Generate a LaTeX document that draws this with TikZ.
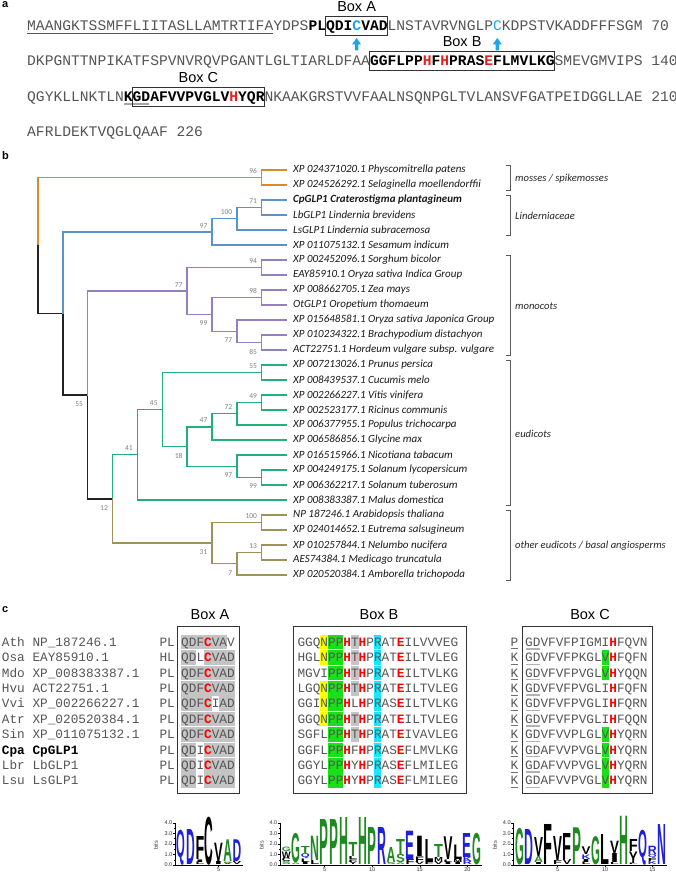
\documentclass[tikz,border=0pt]{standalone}
\usepackage{fontspec}
\usepackage{graphicx}
\usetikzlibrary{calc}
\setmainfont{Liberation Sans}
\newfontfamily\seqf{Liberation Mono}
\newfontfamily\treef{Carlito}
\newfontfamily\lgf{Liberation Sans}
\definecolor{seqgray}{HTML}{555555}
\definecolor{seqred}{HTML}{E8201A}
\definecolor{seqblue}{HTML}{1EA5E6}
\definecolor{torange}{HTML}{DB8A2B}
\definecolor{tblue}{HTML}{5B93C7}
\definecolor{tpurple}{HTML}{9480BE}
\definecolor{tgreen}{HTML}{21B07A}
\definecolor{tolive}{HTML}{9E9159}
\definecolor{tblack}{HTML}{222222}
\definecolor{hlgray}{HTML}{C4C4C4}
\definecolor{hlyellow}{HTML}{FFFF00}
\definecolor{hlgreen}{HTML}{1AE01A}
\definecolor{hlcyan}{HTML}{1AE6FF}
\definecolor{lgreen}{HTML}{1F8A1F}
\definecolor{lblue}{HTML}{2020D8}
\definecolor{lblack}{HTML}{000000}
\newcommand\bk[1]{{\bfseries\color{black}#1}}
\newcommand\rdk[1]{{\bfseries\color{seqred}#1}}
\newcommand\blk[1]{{\bfseries\color{seqblue}#1}}
\newcommand\rc[1]{{\bfseries\color{red}#1}}
\newcount\lgc
\newcommand\lgstart[1]{\xdef\stky{#1}}
\newcommand\lgl[5]{%
  \global\advance\lgc by 1
  \node[inner sep=0pt,anchor=south west,text=#4] (lg\the\lgc) at (#1,\stky) {\resizebox*{#2pt}{#3pt}{\lgf\bfseries #5}};
  \pgfmathsetmacro\tmpy{\stky-#3}\xdef\stky{\tmpy}}
\newcommand\lgcol[3]{\lgstart{865}\foreach \lH/\lC/\lL in {#3}{\lgl{#1}{#2}{\lH}{\lC}{\lL}}}
\newcommand\hc[4]{\fill[#4] ({#1+#2*7.65},{#3-7.3}) rectangle ({#1+#2*7.65+7.65},{#3+7.3});}
\newcommand\logoaxis[5]{% xa, xend, bitsx, first pos x, list of numbered x
  \draw[line width=0.5pt] (#1,865) -- (#1,822.7);
  \foreach \k in {0,1,2,3,4}{
    \draw[line width=0.4pt] (#1,{865-\k*10.57}) -- ({#1-2},{865-\k*10.57});
    \node[ticklab] at ({#1-2.5},{865-\k*10.57}) {\k.0};}
  \foreach \k in {0.5,1.5,2.5,3.5}{\draw[line width=0.3pt] (#1,{865-\k*10.57}) -- ({#1-1.2},{865-\k*10.57});}
  \draw[line width=0.5pt] (#1,865) -- (#2,865);
  \node[ticklab,rotate=90,anchor=center] at (#3,845) {bits};
  \foreach \xx/\nn in {#5}{\draw[line width=0.4pt] (\xx,865) -- (\xx,867);
    \node[ticklab,anchor=north] at (\xx,867.2) {\nn};}
}
\begin{document}
\begin{tikzpicture}[x=1pt,y=-1pt,
  seqline/.style={anchor=base west,inner sep=0pt,font=\seqf\fontsize{14.65}{16}\selectfont,text=seqgray},
  boxlab/.style={inner sep=0pt,font=\fontsize{14.5}{16}\selectfont,text=black},
  seqbox/.style={draw=black!80,line width=1.1pt},
  panel/.style={inner sep=0pt,font=\bfseries\fontsize{11}{12}\selectfont,anchor=north west},
  leaf/.style={anchor=west,inner sep=0pt,font=\treef\itshape\fontsize{11}{12}\selectfont,text=black!90},
  grp/.style={anchor=west,inner sep=0pt,font=\treef\itshape\fontsize{10.6}{12}\selectfont,text=black!85},
  bs/.style={anchor=east,inner sep=0pt,font=\treef\fontsize{7.5}{8}\selectfont,text=black!50},
  br/.style={line width=1.4pt,line cap=rect},
  brk/.style={draw=black!65,line width=0.8pt},
  cseq/.style={anchor=base west,inner sep=0pt,font=\seqf\fontsize{12.75}{14}\selectfont,text=seqgray},
  ticklab/.style={anchor=east,inner sep=0pt,font=\fontsize{5.5}{6}\selectfont,text=black!80}]
\useasboundingbox[fill=white] (0,0) rectangle (676,875);

% ---------------- panel a ----------------
\node[panel] (pa) at (2,1.5) {a};
\node[seqline] (s1) at (27,30.8) {MAANGKTSSMFFLIITASLLAMTRTIFAYDPS\bk{PLQDI}\blk{C}\bk{VAD}LNSTAVRVNGLP{\color{seqblue}C}KDPSTVKADDFFFSGM 70};
\node[seqline] (s2) at (27,65.8) {DKPGNTTNPIKATFSPVNVRQVPGANTLGLTIARLDFAA\bk{GGFLPP}\rdk{H}\bk{F}\rdk{H}\bk{PRAS}\rdk{E}\bk{FLMVLKG}SMEVGMVIPS 140};
\node[seqline] (s3) at (27,101.8) {QGYKLLNKTLN\bk{KGDAFVVPVGLV}\rdk{H}\bk{YQR}NKAAKGRSTVVFAALNSQNPGLTVLANSVFGATPEIDGGLLAE 210};
\node[seqline] (s4) at (27,136.8) {AFRLDEKTVQGLQAAF 226};
\draw[seqgray,line width=0.7pt] (27,33.6) -- (273.1,33.6);
\draw[black!35,line width=2pt] (124,104) -- (149,104);
\draw[seqbox] (325.9,16.5) rectangle (387.4,35.5);
\draw[seqbox] (369.8,51.5) rectangle (554.4,70.5);
\draw[seqbox] (132.5,87.5) rectangle (264.3,106.5);
\node[boxlab] (la) at (356.6,7) {Box A};
\node[boxlab] (lb) at (462.1,42) {Box B};
\node[boxlab] (lc) at (198.4,78) {Box C};
\foreach \ax in {356.6,497.3}{
  \fill[seqblue] (\ax,38) -- ({\ax+4.6},44.5) -- ({\ax+1.8},44.5) -- ({\ax+1.8},50.5) -- ({\ax-1.8},50.5) -- ({\ax-1.8},44.5) -- ({\ax-4.6},44.5) -- cycle;}

% ---------------- panel b ----------------
\node[panel] (pb) at (2,151) {b};
\foreach \i/\t in {1/{XP 024371020.1 Physcomitrella patens},2/{XP 024526292.1 Selaginella moellendorffii},
 3/{\bfseries CpGLP1 Craterostigma plantagineum},4/{LbGLP1 Lindernia brevidens},5/{LsGLP1 Lindernia subracemosa},
 6/{XP 011075132.1 Sesamum indicum},7/{XP 002452096.1 Sorghum bicolor},8/{EAY85910.1 Oryza sativa Indica Group},
 9/{XP 008662705.1 Zea mays},10/{OtGLP1 Oropetium thomaeum},11/{XP 015648581.1 Oryza sativa Japonica Group},
 12/{XP 010234322.1 Brachypodium distachyon},13/{ACT22751.1 Hordeum vulgare subsp. vulgare},
 14/{XP 007213026.1 Prunus persica},15/{XP 008439537.1 Cucumis melo},16/{XP 002266227.1 Vitis vinifera},
 17/{XP 002523177.1 Ricinus communis},18/{XP 006377955.1 Populus trichocarpa},19/{XP 006586856.1 Glycine max},
 20/{XP 016515966.1 Nicotiana tabacum},21/{XP 004249175.1 Solanum lycopersicum},22/{XP 006362217.1 Solanum tuberosum},
 23/{XP 008383387.1 Malus domestica},24/{NP 187246.1 Arabidopsis thaliana},25/{XP 024014652.1 Eutrema salsugineum},
 26/{XP 010257844.1 Nelumbo nucifera},27/{AES74384.1 Medicago truncatula},28/{XP 020520384.1 Amborella trichopoda}}{
  \node[leaf] (l\i) at (293,{170+15*(\i-1)}) {\t};
  \coordinate (t\i) at (286.6,{170+15*(\i-1)});}
\coordinate (n96) at (261.7,177.5);
\coordinate (n71) at (261.7,207.5);
\coordinate (n100) at (236.9,218.75);
\coordinate (n97) at (212,231.875);
\coordinate (n94) at (261.7,267.5);
\coordinate (n98) at (261.7,297.5);
\coordinate (n85) at (261.7,342.5);
\coordinate (n77b) at (236.9,331.25);
\coordinate (n99) at (212,314.375);
\coordinate (n77a) at (187.1,290.94);
\coordinate (n55pc) at (261.7,372.5);
\coordinate (n49) at (261.7,402.5);
\coordinate (n72) at (236.9,413.75);
\coordinate (n47) at (212,426.875);
\coordinate (n99s) at (261.7,477.5);
\coordinate (n97s) at (236.9,466.25);
\coordinate (n18) at (187.1,446.56);
\coordinate (n45) at (162.3,409.53);
\coordinate (n41) at (137.4,454.77);
\coordinate (n100o) at (261.7,522.5);
\coordinate (n13) at (261.7,552.5);
\coordinate (n7) at (236.9,563.75);
\coordinate (n31) at (212,543.125);
\coordinate (n12) at (112.5,498.95);
\coordinate (n55) at (87.6,394.94);
\coordinate (nr2) at (62.8,313.41);
\coordinate (nr) at (37.9,245.45);
% branches
\draw[br,torange] (nr) |- (n96) (n96) |- (t1) (n96) |- (t2);
\draw[br,tblack] (nr) |- (nr2) (nr2) |- (n55) (n55) |- (n12);
\draw[br,tblue] (nr2) |- (n97) (n97) |- (n100) (n97) |- (t6) (n100) |- (n71) (n100) |- (t5) (n71) |- (t3) (n71) |- (t4);
\draw[br,tpurple] (n55) |- (n77a) (n77a) |- (n94) (n77a) |- (n99) (n94) |- (t7) (n94) |- (t8)
  (n99) |- (n98) (n99) |- (n77b) (n98) |- (t9) (n98) |- (t10) (n77b) |- (t11) (n77b) |- (n85) (n85) |- (t12) (n85) |- (t13);
\draw[br,tgreen] (n12) |- (n41) (n41) |- (n45) (n41) |- (t23) (n45) |- (n55pc) (n45) |- (n18) (n55pc) |- (t14) (n55pc) |- (t15)
  (n18) |- (n47) (n18) |- (n97s) (n47) |- (n72) (n47) |- (t19) (n72) |- (n49) (n72) |- (t18) (n49) |- (t16) (n49) |- (t17)
  (n97s) |- (t20) (n97s) |- (n99s) (n99s) |- (t21) (n99s) |- (t22);
\draw[br,tolive] (n12) |- (n31) (n31) |- (n100o) (n31) |- (n7) (n100o) |- (t24) (n100o) |- (t25) (n7) |- (n13) (n7) |- (t28) (n13) |- (t26) (n13) |- (t27);
% bootstrap values
\foreach \nd/\dy/\v [count=\j] in {n96/-6.3/96,n71/-6.3/71,n100/-6.3/100,n97/-6.3/97,n94/-6.3/94,n77a/-6.3/77,n98/-6.3/98,
  n99/9/99,n77b/9/77,n85/9/85,n55pc/-6.3/55,n49/-6.3/49,n72/-6.3/72,n47/-6.3/47,n45/-6.3/45,n41/-6.3/41,n18/9/18,
  n97s/9/97,n99s/9/99,n55/9/55,n12/9/12,n100o/-6.3/100,n13/-6.3/13,n31/9/31,n7/9/7}{
  \node[bs] (bv\j) at ($(\nd)+(-4.5,\dy)$) {\v};}
% clade brackets
\foreach \ya/\yb/\g [count=\j] in {165/190/{mosses / spikemosses},195/235/{Linderniaceae},255/355/{monocots},360/505/{eudicots},510/580/{other eudicots / basal angiosperms}}{
  \draw[brk] (506,\ya) -- (510,\ya) -- (510,\yb) -- (506,\yb);
  \node[grp] (g\j) at (515,{(\ya+\yb)/2+1}) {\g};}

% ---------------- panel c ----------------
\node[panel] (pc) at (2,606) {c};
\node[boxlab] (ca) at (210,615) {Box A};
\node[boxlab] (cb) at (379,615) {Box B};
\node[boxlab] (cc) at (590,615) {Box C};
% highlights box A
\foreach \c in {0,...,5}{\hc{181}{\c}{642}{hlgray}}
\foreach \c in {0,1,3,4,5,6}{\hc{181}{\c}{657.4}{hlgray}\hc{181}{\c}{749.8}{hlgray}\hc{181}{\c}{765.2}{hlgray}\hc{181}{\c}{780.6}{hlgray}}
\foreach \c in {0,...,6}{\hc{181}{\c}{672.8}{hlgray}\hc{181}{\c}{688.2}{hlgray}\hc{181}{\c}{719}{hlgray}\hc{181}{\c}{734.4}{hlgray}}
\foreach \c in {0,1,2,3,5,6}{\hc{181}{\c}{703.6}{hlgray}}
% highlights box B
\foreach \r in {642,657.4,688.2,703.6,719}{\hc{297.3}{3}{\r}{hlyellow}}
\foreach \r in {642,657.4,672.8,688.2,719,734.4}{\hc{297.3}{7}{\r}{hlgray}}
\foreach \r in {642,657.4,672.8,688.2,703.6,719,734.4,749.8,765.2,780.6}{\hc{297.3}{4}{\r}{hlgreen}\hc{297.3}{5}{\r}{hlgreen}\hc{297.3}{10}{\r}{hlcyan}}
% highlights box C
\foreach \r in {657.4,672.8,734.4,749.8,765.2,780.6}{\hc{525}{10}{\r}{hlgreen}}
% rows
\foreach \r/\lab/\pre/\sa/\sb/\pc/\scc [count=\j] in {
 642/{Ath NP\_187246.1}/PL/{QDF\rc{C}VAV}/{GGQNPP\rc{H}T\rc{H}PRAT\rc{E}ILVVVEG}/P/{GDVFVFPIGMI\rc{H}FQVN},
 657.4/{Osa EAY85910.1}/HL/{QDL\rc{C}VAD}/{HGLNPP\rc{H}T\rc{H}PRAT\rc{E}ILTVLEG}/K/{GDVFVFPKGLV\rc{H}FQFN},
 672.8/{Mdo XP\_008383387.1}/PL/{QDF\rc{C}VAD}/{MGVIPP\rc{H}T\rc{H}PRAT\rc{E}ILTVLKG}/K/{GDVFVFPVGLV\rc{H}YQQN},
 688.2/{Hvu ACT22751.1}/PL/{QDF\rc{C}VAD}/{LGQNPP\rc{H}T\rc{H}PRAT\rc{E}ILTVLEG}/K/{GDVFVFPVGLI\rc{H}FQFN},
 703.6/{Vvi XP\_002266227.1}/PL/{QDF\rc{C}IAD}/{GGINPP\rc{H}L\rc{H}PRAS\rc{E}ILTVLKG}/K/{GDVFVFPVGLI\rc{H}FQRN},
 719/{Atr XP\_020520384.1}/PL/{QDF\rc{C}VAD}/{GGQNPP\rc{H}T\rc{H}PRAT\rc{E}ILTVLEG}/K/{GDVFVFPVGLI\rc{H}FQQN},
 734.4/{Sin XP\_011075132.1}/PL/{QDF\rc{C}VAD}/{SGFLPP\rc{H}T\rc{H}PRAT\rc{E}IVAVLEG}/K/{GDVFVVPLGLV\rc{H}YQRN},
 749.8/{\bk{Cpa CpGLP1}}/PL/{QDI\rc{C}VAD}/{GGFLPP\rc{H}F\rc{H}PRAS\rc{E}FLMVLKG}/K/{GDAFVVPVGLV\rc{H}YQRN},
 765.2/{Lbr LbGLP1}/PL/{QDI\rc{C}VAD}/{GGYLPP\rc{H}Y\rc{H}PRAS\rc{E}FLMILEG}/K/{GDAFVVPVGLV\rc{H}YQRN},
 780.6/{Lsu LsGLP1}/PL/{QDI\rc{C}VAD}/{GGYLPP\rc{H}Y\rc{H}PRAS\rc{E}FLMILEG}/K/{GDAFVVPVGLV\rc{H}YQRN}}{
  \node[cseq] (rl\j) at (1.7,{\r+4.2}) {\lab};
  \node[cseq] (rp\j) at (159.3,{\r+4.2}) {\pre};
  \node[cseq] (ra\j) at (181,{\r+4.2}) {\sa};
  \node[cseq] (rb\j) at (297.3,{\r+4.2}) {\sb};
  \node[cseq] (rk\j) at (510.5,{\r+4.2}) {\pc};
  \node[cseq] (rc\j) at (525,{\r+4.2}) {\scc};
  \draw[black!55,line width=0.6pt] (510.8,{\r+6.6}) -- (517.8,{\r+6.6});
  \draw[black!30,line width=1.3pt] (525.5,{\r+6.9}) -- (540,{\r+6.9});}
\draw[seqbox,line width=0.9pt] (177,626.5) rectangle (239.3,793);
\draw[seqbox,line width=0.9pt] (293.3,626.5) rectangle (466.7,793);
\draw[seqbox,line width=0.9pt] (522.3,626.5) rectangle (652.3,793);

% ---------------- logos ----------------
\logoaxis{175}{242.5}{156}{176.7}{218.55/5}
\logoaxis{280}{482}{261.7}{281.7}{324.54/5,372.14/10,419.74/15,467.34/20}
\logoaxis{513.3}{667}{495}{515}{557.66/5,605.06/10,652.46/15}
% logo A
\def\w{8.7}
\lgcol{176.7}{\w}{35/lblue/Q}
\lgcol{186.0}{\w}{35/lblue/D}
\lgcol{195.3}{\w}{2.5/lblack/L,2.5/lblack/I,23/lblack/F}
\lgcol{204.6}{\w}{48/lblack/C}
\lgcol{213.9}{\w}{3/lblack/I,18.3/lblack/V}
\lgcol{223.2}{\w}{1.5/lblack/V,1.5/lgreen/S,21.7/lgreen/A}
\lgcol{232.5}{\w}{3/lblack/V,21.7/lblue/D}
% logo B
\def\w{8.9}
\lgcol{281.7}{\w}{3/lgreen/S,3.5/lblack/C,6.5/lblack/W,4.5/lgreen/G}
\lgcol{291.22}{\w}{1.5/lgreen/A,29.5/lgreen/G}
\lgcol{300.74}{\w}{2.5/lblack/I,3.5/lblack/L,5/lblue/Q,7/lgreen/T}
\lgcol{310.26}{\w}{4/lblack/L,24.3/lgreen/N}
\lgcol{319.78}{\w}{45/lgreen/P}
\lgcol{329.30}{\w}{45/lgreen/P}
\lgcol{338.82}{\w}{47/lgreen/H}
\lgcol{348.34}{\w}{2.5/lblack/Y,2.5/lblack/F,3/lblack/L,14/lgreen/T}
\lgcol{357.86}{\w}{47/lgreen/H}
\lgcol{367.38}{\w}{37/lgreen/P}
\lgcol{376.90}{\w}{37/lblue/R}
\lgcol{386.42}{\w}{2/lgreen/S,15/lgreen/A}
\lgcol{395.94}{\w}{1.7/lgreen/A,8.3/lgreen/S,15/lgreen/T}
\lgcol{405.46}{\w}{5/lblack/F,28.3/lblue/E}
\lgcol{414.98}{\w}{2.5/lblack/V,5.5/lblack/F,20.3/lblack/I}
\lgcol{424.50}{\w}{2/lblack/F,23/lblack/L}
\lgcol{434.02}{\w}{3/lblack/V,4/lblack/M,13/lgreen/T}
\lgcol{443.54}{\w}{2.5/lblack/I,2.5/lblack/L,22.7/lblack/V}
\lgcol{453.06}{\w}{2.5/lblack/I,3/lblack/M,14.5/lblack/L}
\lgcol{462.58}{\w}{3.5/lblue/R,4.2/lblue/K,24/lblue/E}
\lgcol{472.10}{\w}{31.7/lgreen/G}
% logo C
\def\w{8.9}
\lgcol{515.00}{\w}{36.7/lgreen/G}
\lgcol{524.48}{\w}{35/lblue/D}
\lgcol{533.96}{\w}{2/lblack/I,6/lgreen/A,19/lblack/V}
\lgcol{543.44}{\w}{40/lblack/F}
\lgcol{552.92}{\w}{4/lblack/F,24/lblack/V}
\lgcol{562.40}{\w}{5/lblack/V,26/lblack/F}
\lgcol{571.88}{\w}{36.7/lgreen/P}
\lgcol{581.36}{\w}{2.5/lblack/L,3/lblack/I,4.5/lblue/K,7.7/lblack/V}
\lgcol{590.84}{\w}{28.3/lgreen/G}
\lgcol{600.32}{\w}{30/lblack/L}
\lgcol{609.80}{\w}{2/lblack/L,9/lblack/I,12.3/lblack/V}
\lgcol{619.28}{\w}{48.3/lgreen/H}
\lgcol{628.76}{\w}{1.5/lblack/L,11.5/lblack/Y,12/lblack/F}
\lgcol{638.24}{\w}{35/lblue/Q}
\lgcol{647.72}{\w}{3/lblue/K,3/lblack/F,4/lblue/Q,8.3/lblue/R}
\lgcol{657.20}{\w}{40/lblue/N}
\end{tikzpicture}
\end{document}
